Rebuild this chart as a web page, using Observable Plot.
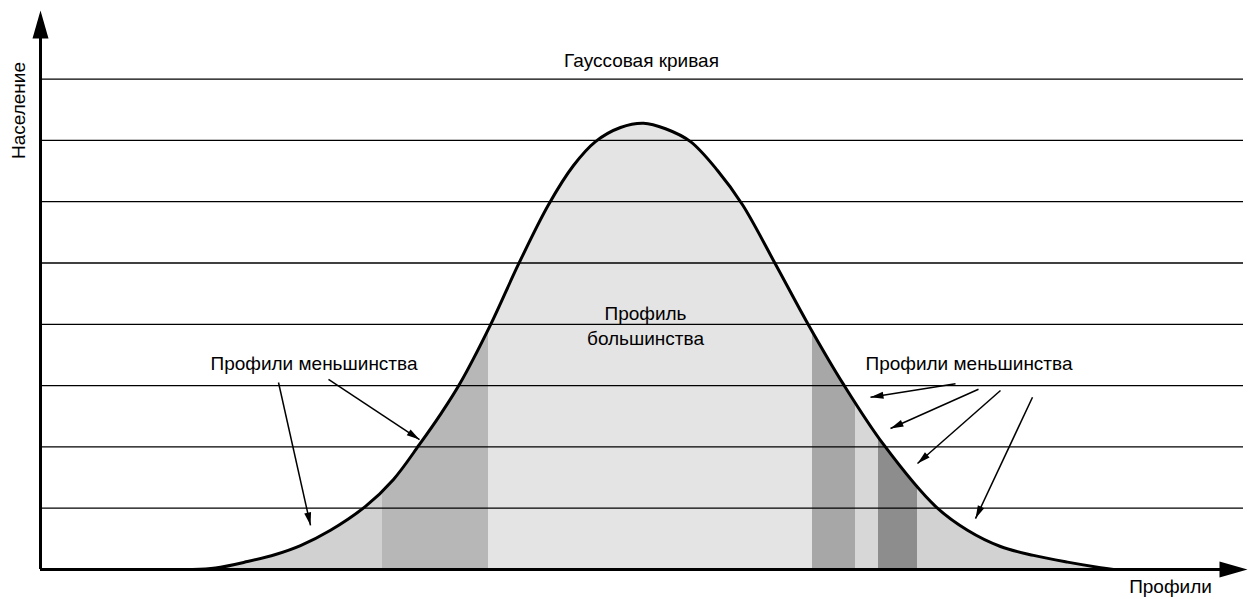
<!DOCTYPE html>
<html><head><meta charset="utf-8">
<script src="https://cdn.jsdelivr.net/npm/d3@7"></script>
<script src="https://cdn.jsdelivr.net/npm/@observablehq/plot@0.6"></script>
<style>body{margin:0;background:#fff;}</style>
</head><body><div id="chart"></div>
<script>
// ---- data ----
const curveX = [15.2, 17.5, 20.7, 23.5, 26.0, 29.0, 32.5, 35.3, 37.9, 40.0, 41.9, 45.0, 47.8, 50.8, 53.3, 55.5, 58.0, 60.3, 62.5, 65.0, 67.7, 70.2, 73.5, 76.8, 80.3, 84.3, 89.5, 92.7, 96.0, 99.3, 102.7, 106.0, 107.3];
const curveY = [0, 0.024, 0.13, 0.245, 0.39, 0.64, 1.03, 1.47, 2.04, 2.53, 3.02, 3.99, 4.98, 5.95, 6.59, 6.98, 7.21, 7.28, 7.19, 6.98, 6.51, 5.95, 4.98, 3.99, 3.02, 2.04, 1.03, 0.64, 0.375, 0.23, 0.12, 0.03, 0];
const gridValues = [1, 2, 3, 4, 5, 6, 7, 8];
const bandNames = ["tailL", "minorL", "major", "minorR1", "gapR", "minorR2", "tailR"];
const bandStart = [15.2, 34.2, 44.8, 77.2, 81.5, 83.8, 87.7];
const bandEnd   = [34.2, 44.8, 77.2, 81.5, 83.8, 87.7, 107.3];
const titleText = "Гауссовая кривая";
const majorityText = "Профиль\nбольшинства";
const minorityText = "Профили меньшинства";
const yAxisText = "Население";
const xAxisText = "Профили";
// annotation arrows (from label to curve)
const arrowX1 = [23.8, 28.8, 91.5, 93.8, 96.0, 99.2];
const arrowY1 = [3.05, 3.10, 3.03, 2.94, 2.92, 2.81];
const arrowX2 = [27.0, 37.9, 83.0, 85.0, 87.7, 93.5];
const arrowY2 = [0.72, 2.12, 2.81, 2.30, 1.73, 0.83];

// ---- layout ----
const W = 1248, H = 599;
const mL = 40, mR = 8, mT = 9, mB = 30;
const xDomain = [0, 120], yDomain = [0, 9.135];
const bandColors = ["#d1d1d1", "#b7b7b7", "#e4e4e4", "#a7a7a7", "#d7d7d7", "#8d8d8d", "#d2d2d2"];
const font = "'Liberation Sans', Arial, Helvetica, sans-serif";
const fs = 19;

const curve = curveX.map((x, i) => ({x, y: curveY[i]}));
const bands = bandNames.map((name, i) => ({name, x1: bandStart[i], x2: bandEnd[i]}));
const bandTop = 7.6;

const xs = Plot.scale({x: {domain: xDomain, range: [mL, W - mR]}});
const ys = Plot.scale({y: {domain: yDomain, range: [H - mB, mT]}});
const arrows = arrowX1.map((x1, i) => {
  const dx = xs.apply(arrowX2[i]) - xs.apply(x1);
  const dy = ys.apply(arrowY2[i]) - ys.apply(arrowY1[i]);
  const ang = Math.atan2(dy, dx) * 180 / Math.PI;
  return {x1, y1: arrowY1[i], x2: arrowX2[i], y2: arrowY2[i], rot: ang + 90};
});

const bigHead = {draw(ctx) { ctx.moveTo(0, 0); ctx.lineTo(-8, 28); ctx.lineTo(8, 28); ctx.closePath(); }};
const smallHead = {draw(ctx) { ctx.moveTo(0, 0); ctx.lineTo(-3.5, 13); ctx.lineTo(3.5, 13); ctx.closePath(); }};

const yTip = ys.invert(10);
const xTip = xs.invert(1247);
const cv = "catmull-rom";

const chart = Plot.plot({
  width: W, height: H,
  marginLeft: mL, marginRight: mR, marginTop: mT, marginBottom: mB,
  style: {fontFamily: font, background: "#fff", overflow: "visible"},
  x: {domain: xDomain, axis: null},
  y: {domain: yDomain, axis: null},
  color: {domain: bandNames, range: bandColors},
  marks: [
    Plot.rect(bands, {x1: "x1", x2: "x2", y1: 0, y2: bandTop, fill: "name"}),
    Plot.area(curve, {x1: "x", y1: "y", y2: bandTop, fill: "#fff", curve: cv}),
    Plot.ruleY(gridValues, {x1: 0, x2: xs.invert(1243), stroke: "#000", strokeWidth: 1.3}),
    Plot.line(curve, {x: "x", y: "y", curve: cv, stroke: "#000", strokeWidth: 3}),
    Plot.ruleX([0], {y1: 0, y2: ys.invert(36), stroke: "#000", strokeWidth: 3}),
    Plot.ruleY([0], {x1: 0, x2: xs.invert(1224), stroke: "#000", strokeWidth: 3}),
    Plot.dot([{x: 0, y: yTip}], {x: "x", y: "y", symbol: bigHead, fill: "#000", stroke: "none"}),
    Plot.dot([{x: xTip, y: 0}], {x: "x", y: "y", symbol: bigHead, rotate: 90, fill: "#000", stroke: "none"}),
    Plot.link(arrows, {x1: "x1", y1: "y1", x2: "x2", y2: "y2", stroke: "#000", strokeWidth: 1.5}),
    Plot.dot(arrows, {x: "x2", y: "y2", symbol: smallHead, rotate: "rot", fill: "#000", stroke: "none"}),
    Plot.text([titleText], {x: 60.1, y: ys.invert(60), text: d => d, fontSize: fs, fill: "#000"}),
    Plot.text([majorityText], {x: 60.5, y: ys.invert(323.5), text: d => d, fontSize: fs, lineHeight: 25 / fs, fill: "#000"}),
    Plot.text([minorityText, minorityText], {x: [27.35, 92.85], y: ys.invert(363), text: d => d, fontSize: fs, fill: "#000"}),
    Plot.text([yAxisText], {x: xs.invert(18), y: ys.invert(110), text: d => d, rotate: -90, fontSize: fs, fill: "#000"}),
    Plot.text([xAxisText], {x: xs.invert(1170), y: ys.invert(586), text: d => d, fontSize: fs, fill: "#000"})
  ]
});
document.getElementById("chart").appendChild(chart);
</script>
</body></html>
